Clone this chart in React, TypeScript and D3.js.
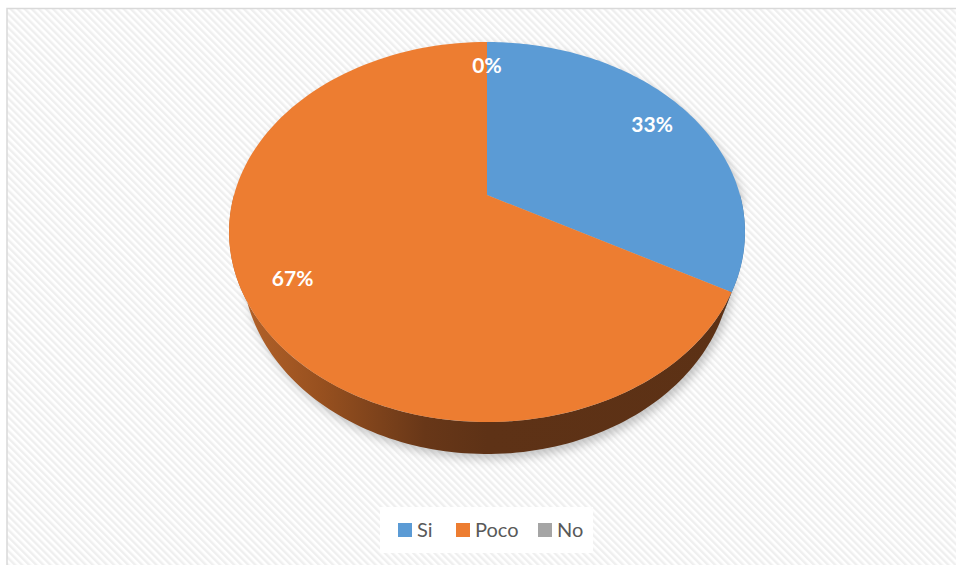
import React from "react";
import * as d3 from "d3";

const categories = ["Si", "Poco", "No"];
const values = [33, 67, 0];
const labels = ["33%", "67%", "0%"];
const colors = ["#5b9bd5", "#ed7d31", "#a5a5a5"];
const sideColors = ["#3a6c9a", "url(#sideOrange)", "#666666"];

const W = 956;
const H = 565;
const cx = 487;
const cy = 195; // projected pie centre
const A = 253;
const A2 = 240; // bottom face appears narrower (perspective)
const B = 182.8;
const persp = 0.1947;
const depth = 32;

function proj(X: number, Z: number, a = A, dy = 0): [number, number] {
  const w = 1 + persp * Z;
  return [cx + (a * X) / w, cy + dy - (B * Z) / w];
}
function pt(theta: number, r = 1): [number, number] {
  return proj(r * Math.sin(theta), r * Math.cos(theta));
}
function ptBot(theta: number): [number, number] {
  return proj(Math.sin(theta), Math.cos(theta), A2, depth);
}
function arcPts(a0: number, a1: number, n = 120, f = pt): [number, number][] {
  const pts: [number, number][] = [];
  for (let i = 0; i <= n; i++) {
    pts.push(f(a0 + ((a1 - a0) * i) / n));
  }
  return pts;
}

export default function App() {
  const pie = d3
    .pie<number>()
    .sort(null)
    .value((d) => d)(values);

  const frontStart = Math.PI / 2;
  const frontEnd = (3 * Math.PI) / 2;

  const line = d3.line();

  const tops = pie.map((s, i) => {
    if (s.endAngle - s.startAngle <= 0) return null;
    const pts = [pt(0, 0), ...arcPts(s.startAngle, s.endAngle)];
    return <path key={"t" + i} d={line(pts)! + "Z"} fill={colors[i]} />;
  });

  const sides = pie.map((s, i) => {
    const a0 = Math.max(s.startAngle, frontStart);
    const a1 = Math.min(s.endAngle, frontEnd);
    if (a1 <= a0) return null;
    const top = arcPts(a0, a1);
    const bot = arcPts(a0, a1, 120, ptBot).reverse();
    return <path key={"s" + i} d={line([...top, ...bot])! + "Z"} fill={sideColors[i]} />;
  });

  // silhouette for shadow
  const frontBot = arcPts(frontStart, frontEnd, 120, ptBot);
  const backArc = arcPts(frontEnd, 2 * Math.PI + frontStart, 120);
  const silhouette = line([...frontBot, ...backArc])! + "Z";

  const labelR = 0.82;
  const labelEls = pie.map((s, i) => {
    const mid = (s.startAngle + s.endAngle) / 2;
    const [x, y] = pt(mid, labelR);
    return (
      <text
        key={"l" + i}
        x={x}
        y={y}
        dy="0.36em"
        textAnchor="middle"
        fill="#ffffff"
        fontFamily="Lato, 'Open Sans', sans-serif"
        fontWeight="bold"
        fontSize={21}
      >
        {labels[i]}
      </text>
    );
  });

  const legendX = [398, 456, 538];

  return (
    <div style={{ position: "absolute", left: 0, top: 0 }}>
      <svg width={W} height={H} style={{ display: "block" }}>
        <defs>
          <pattern
            id="hatch"
            width="5"
            height="5"
            patternUnits="userSpaceOnUse"
            patternTransform="rotate(-45)"
          >
            <rect width="5" height="5" fill="#ffffff" />
            <rect width="2.4" height="5" fill="#efefef" />
          </pattern>
          <linearGradient id="sideOrange" gradientUnits="userSpaceOnUse" x1={229} y1={0} x2={745} y2={0}>
            <stop offset="0" stopColor="#b8652b" />
            <stop offset="0.18" stopColor="#97501f" />
            <stop offset="0.38" stopColor="#683718" />
            <stop offset="0.5" stopColor="#5e3216" />
            <stop offset="1" stopColor="#5c3115" />
          </linearGradient>
          <filter id="shadow" x="-20%" y="-20%" width="140%" height="140%">
            <feGaussianBlur stdDeviation="5" />
          </filter>
        </defs>
        <rect x={0} y={0} width={W} height={H} fill="#ffffff" />
        <rect x={7} y={8.5} width={980} height={600} fill="url(#hatch)" stroke="#d9d9d9" strokeWidth={1.5} />
        <g transform="translate(3,5)" filter="url(#shadow)" opacity={0.45}>
          <path d={silhouette} fill="#7f7f7f" />
        </g>
        {sides}
        {tops}
        {labelEls}
        <rect x={380} y={507} width={213} height={46} fill="#ffffff" />
        {categories.map((c, i) => (
          <g key={"lg" + i}>
            <rect x={legendX[i]} y={523} width={14} height={14} fill={colors[i]} />
            <text
              x={legendX[i] + 19}
              y={537}
              fill="#595959"
              fontFamily="Lato, 'Open Sans', sans-serif"
              fontSize={20}
            >
              {c}
            </text>
          </g>
        ))}
      </svg>
    </div>
  );
}
